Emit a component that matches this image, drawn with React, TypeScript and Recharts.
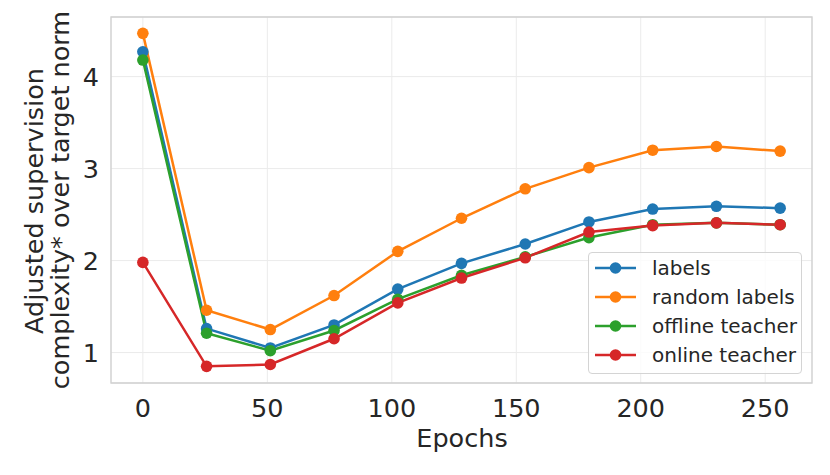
import React from "react";
import {
  LineChart,
  Line,
  XAxis,
  YAxis,
  CartesianGrid,
  ReferenceArea,
  Legend,
} from "recharts";

const FONT = "DejaVu Sans, Verdana, sans-serif";
const TEXT = "#262626";

// epochs at which the measurements were taken
const epochs = [0, 25.6, 51.2, 76.8, 102.4, 128, 153.6, 179.2, 204.8, 230.4, 256];

const labels = [4.27, 1.26, 1.05, 1.3, 1.69, 1.97, 2.18, 2.42, 2.56, 2.59, 2.57];
const randomLabels = [4.47, 1.46, 1.25, 1.62, 2.1, 2.46, 2.78, 3.01, 3.2, 3.24, 3.19];
const offlineTeacher = [4.18, 1.21, 1.02, 1.24, 1.58, 1.84, 2.04, 2.25, 2.39, 2.41, 2.39];
const onlineTeacher = [1.98, 0.85, 0.87, 1.15, 1.54, 1.81, 2.03, 2.31, 2.38, 2.41, 2.39];

const xTicks = [0, 50, 100, 150, 200, 250];
const yTicks = [1, 2, 3, 4];
const xDomain: [number, number] = [-12.8, 268.8];
const yDomain: [number, number] = [0.669, 4.648];

const series = [
  { key: "labels", name: "labels", color: "#1f77b4", values: labels },
  { key: "random", name: "random labels", color: "#ff7f0e", values: randomLabels },
  { key: "offline", name: "offline teacher", color: "#2ca02c", values: offlineTeacher },
  { key: "online", name: "online teacher", color: "#d62728", values: onlineTeacher },
];

const data = epochs.map((epoch, i) => {
  const row: { [key: string]: number } = { epoch };
  series.forEach((s) => {
    row[s.key] = s.values[i];
  });
  return row;
});

const XTick = (props: any) => {
  const { x, payload } = props;
  return (
    <text x={x} y={417} textAnchor="middle" fontSize={25.5} fill={TEXT} fontFamily={FONT}>
      {payload.value}
    </text>
  );
};

const YTick = (props: any) => {
  const { y, payload } = props;
  return (
    <text x={99} y={y} dy="0.37em" textAnchor="end" fontSize={25.5} fill={TEXT} fontFamily={FONT}>
      {payload.value}
    </text>
  );
};

const XLabel = () => (
  <text x={462} y={447} textAnchor="middle" fontSize={25.5} fill={TEXT} fontFamily={FONT}>
    Epochs
  </text>
);

const YLabel = () => (
  <g fontSize={25.5} fill={TEXT} fontFamily={FONT}>
    <text transform="translate(43,201) rotate(-90)" textAnchor="middle">
      Adjusted supervision
    </text>
    <text transform="translate(68.5,200) rotate(-90)" textAnchor="middle">
      complexity* over target norm
    </text>
  </g>
);

const LegendBox = () => (
  <div
    style={{
      width: 214,
      height: 122,
      boxSizing: "border-box",
      border: "1px solid #d4d4d4",
      borderRadius: 4,
      background: "rgba(255,255,255,0.8)",
    }}
  >
    <svg width={212} height={120}>
      {series.map((s, i) => {
        const cy = 15 + i * 29;
        return (
          <g key={s.key}>
            <line x1={6} x2={47} y1={cy} y2={cy} stroke={s.color} strokeWidth={2.5} />
            <circle cx={26.5} cy={cy} r={5.8} fill={s.color} />
            <text x={63} y={cy} dy="0.36em" fontSize={20} fill={TEXT} fontFamily={FONT}>
              {s.name}
            </text>
          </g>
        );
      })}
    </svg>
  </div>
);

const App = () => {
  return (
    <div style={{ position: "absolute", left: 0, top: 0, background: "#fff" }}>
      <LineChart
        width={830}
        height={475}
        data={data}
        margin={{ top: 17, right: 18, bottom: 0, left: 0 }}
      >
        <CartesianGrid stroke="#ebebeb" strokeWidth={1} />
        <XAxis
          dataKey="epoch"
          type="number"
          domain={xDomain}
          ticks={xTicks}
          height={92}
          axisLine={false}
          tickLine={false}
          tick={<XTick />}
          label={{ content: () => <XLabel /> }}
        />
        <YAxis
          type="number"
          domain={yDomain}
          ticks={yTicks}
          width={111}
          axisLine={false}
          tickLine={false}
          tick={<YTick />}
          allowDataOverflow
          label={{ content: () => <YLabel /> }}
        />
        <ReferenceArea
          x1={xDomain[0]}
          x2={xDomain[1]}
          y1={yDomain[0]}
          y2={yDomain[1]}
          fill="none"
          stroke="#d0d0d0"
          strokeWidth={1.3}
        />
        {series.map((s) => (
          <Line
            key={s.key}
            type="linear"
            dataKey={s.key}
            name={s.name}
            stroke={s.color}
            strokeWidth={2.5}
            dot={{ r: 5.8, fill: s.color, stroke: s.color, strokeWidth: 0 }}
            activeDot={false}
            isAnimationActive={false}
          />
        ))}
        <Legend
          layout="vertical"
          align="center"
          verticalAlign="middle"
          content={() => <LegendBox />}
          wrapperStyle={{ left: 588, top: 252, width: 214, height: 122 }}
        />
      </LineChart>
    </div>
  );
};

export default App;
